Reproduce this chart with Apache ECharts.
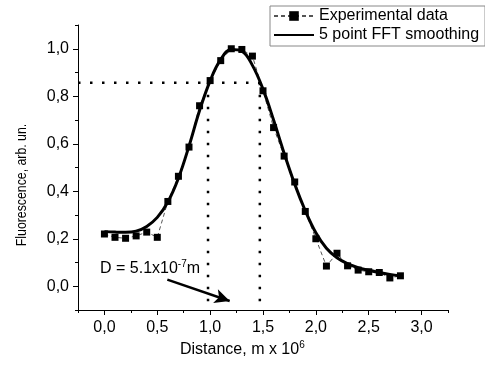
<!DOCTYPE html>
<html>
<head>
<meta charset="utf-8">
<script src="https://cdn.jsdelivr.net/npm/echarts@6/dist/echarts.min.js"></script>
<style>html,body{margin:0;padding:0;background:#fff}#c{width:485px;height:365px}</style>
</head>
<body>
<div id="c"></div>
<script>
// ---- data ----
var distance = [0.0,0.1,0.2,0.3,0.4,0.5,0.6,0.7,0.8,0.9,1.0,1.1,1.2,1.3,1.4,1.5,1.6,1.7,1.8,1.9,2.0,2.1,2.2,2.3,2.4,2.5,2.6,2.7,2.8];
var experimental = [0.22,0.206,0.202,0.212,0.228,0.206,0.357,0.463,0.586,0.76,0.866,0.95,1.0,0.997,0.969,0.823,0.668,0.548,0.439,0.315,0.2,0.085,0.139,0.086,0.068,0.061,0.058,0.035,0.044];
var smoothed = [0.23,0.228,0.227,0.232,0.252,0.29,0.355,0.455,0.59,0.74,0.865,0.955,0.997,0.99,0.93,0.83,0.7,0.56,0.43,0.318,0.225,0.16,0.12,0.095,0.078,0.067,0.058,0.05,0.043];
var xTicks = [0,0.5,1.0,1.5,2.0,2.5,3.0];
var xMinorTicks = [-0.25,0.25,0.75,1.25,1.75,2.25,2.75,3.25];
var yTicks = [0,0.2,0.4,0.6,0.8,1.0];
var yMinorTicks = [-0.1,0.1,0.3,0.5,0.7,0.9,1.1];
var levelY = 0.857;          // horizontal guide level
var levelX = [0.98, 1.47];    // vertical guide positions
var arrowFrom = [0.595, 0.028];
var arrowTo = [1.185, -0.062];
var seriesNames = ['Experimental data', '5 point FFT smoothing'];

var FONT = "'Liberation Sans', Arial, sans-serif";
function pairs(xs, ys){ return xs.map(function(x,i){ return [x, ys[i]]; }); }
function fmt(v){ return Number(v).toFixed(1).replace('.', ','); }
var dotted = {color:'#000', width:2.5, type:[2.5,9.5], cap:'butt'};

var chart = echarts.init(document.getElementById('c'), null, {renderer:'canvas'});
chart.setOption({
  animation:false,
  textStyle:{fontFamily:FONT, color:'#000'},
  grid:{left:78, right:37, top:25, bottom:55},
  legend:{
    data:[
      {name:seriesNames[0]},
      {name:seriesNames[1], itemStyle:{opacity:0}}
    ],
    orient:'vertical', left:270, top:6,
    padding:[2,6,3,3], itemGap:3, itemWidth:40, itemHeight:12,
    borderColor:'#888', borderWidth:1, borderRadius:0,
    textStyle:{fontFamily:FONT, fontSize:16, color:'#000'}
  },
  xAxis:[{
    type:'value', min:-0.25, max:3.25, position:'bottom',
    axisLine:{onZero:false, lineStyle:{color:'#000', width:1}},
    axisTick:{customValues:xTicks, length:5, lineStyle:{color:'#000'}},
    axisLabel:{customValues:xTicks, formatter:fmt, fontSize:16, color:'#000', margin:10, fontFamily:FONT},
    splitLine:{show:false}
  },{
    type:'value', min:-0.25, max:3.25, position:'bottom',
    axisLine:{show:false, onZero:false},
    axisTick:{customValues:xMinorTicks, length:3, lineStyle:{color:'#000'}},
    axisLabel:{show:false}, splitLine:{show:false}
  }],
  yAxis:[{
    type:'value', min:-0.1, max:1.1, position:'left',
    axisLine:{show:true, onZero:false, lineStyle:{color:'#000', width:1}},
    axisTick:{show:true, customValues:yTicks, length:5, lineStyle:{color:'#000'}},
    axisLabel:{customValues:yTicks, formatter:fmt, fontSize:16, color:'#000', margin:9, fontFamily:FONT},
    splitLine:{show:false}
  },{
    type:'value', min:-0.1, max:1.1, position:'left',
    axisLine:{show:false, onZero:false},
    axisTick:{show:true, customValues:yMinorTicks, length:3, lineStyle:{color:'#000'}},
    axisLabel:{show:false}, splitLine:{show:false}
  }],
  series:[
    {
      name:seriesNames[0], type:'line', data:pairs(distance, experimental),
      symbol:'rect', symbolSize:7, itemStyle:{color:'#000'},
      lineStyle:{color:'#555', width:1, type:[4,3]}, z:3
    },
    {
      name:seriesNames[1], type:'line', data:pairs(distance, smoothed),
      smooth:0.4, showSymbol:false, itemStyle:{color:'#000'},
      lineStyle:{color:'#000', width:3}, z:4
    },
    {
      type:'line', data:[[-0.25, levelY],[levelX[1], levelY]], showSymbol:false, symbol:'none',
      lineStyle:dotted, silent:true, z:2,
      markLine:{
        silent:true, symbol:['none','arrow'], symbolSize:[11,15], label:{show:false},
        lineStyle:{color:'#000', width:2.5, type:'solid'},
        data:[[{coord:arrowFrom},{coord:arrowTo}]]
      }
    },
    {
      type:'line', data:[[levelX[0], levelY],[levelX[0], -0.1]], showSymbol:false, symbol:'none',
      lineStyle:dotted, silent:true, z:2
    },
    {
      type:'line', data:[[levelX[1], levelY],[levelX[1], -0.1]], showSymbol:false, symbol:'none',
      lineStyle:dotted, silent:true, z:2
    }
  ],
  graphic:[
    {
      type:'text', left:100, top:259,
      style:{
        text:'D = 5.1x10{sup|-7}m', fontSize:16, fontFamily:FONT, fill:'#000', lineHeight:20,
        rich:{sup:{fontSize:10, verticalAlign:'top', lineHeight:20, fontFamily:FONT, fill:'#000'}}
      }
    },
    {
      type:'text', left:180, top:340,
      style:{
        text:'Distance, m x 10{sup|6}', fontSize:16, fontFamily:FONT, fill:'#000', lineHeight:20,
        rich:{sup:{fontSize:10, verticalAlign:'top', lineHeight:20, fontFamily:FONT, fill:'#000'}}
      }
    },
    {
      type:'text', x:22, y:185, rotation:Math.PI/2, scaleX:0.82,
      style:{text:'Fluorescence, arb. un.', fontSize:15, fontFamily:FONT, fill:'#000', align:'center', verticalAlign:'middle'}
    }
  ]
});
</script>
</body>
</html>
